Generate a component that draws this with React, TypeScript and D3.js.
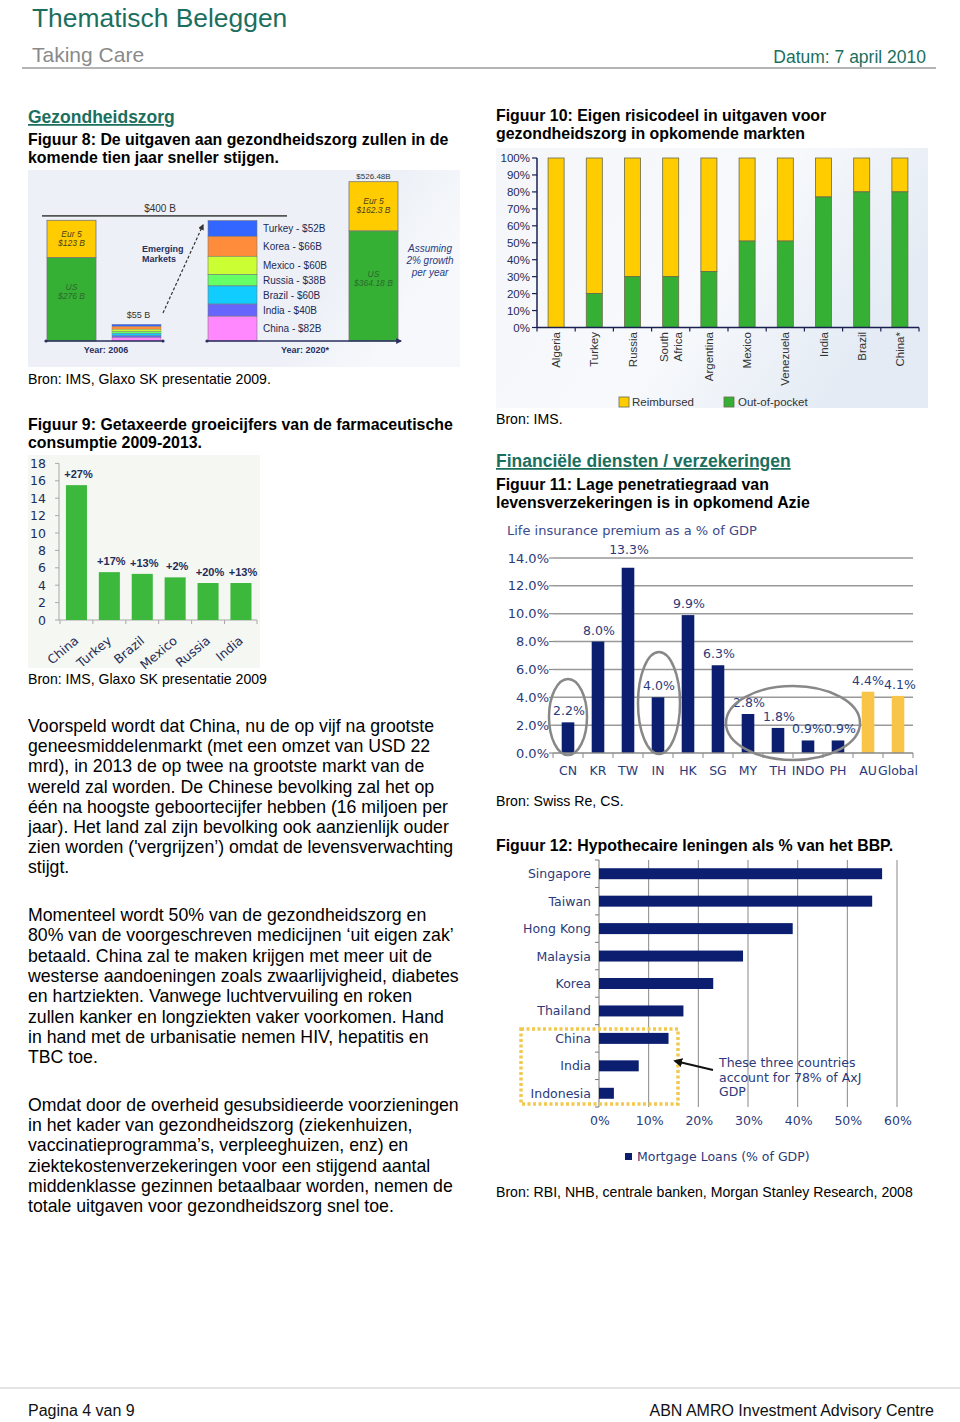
import React from 'react';
import * as d3 from 'd3';

const SANS = '"Liberation Sans", Arial, Helvetica, sans-serif';
const VERD = '"DejaVu Sans", Verdana, sans-serif';
const TEAL = '#1b6f5e';
const NAVY = '#2b3a7a';
const DARKNAVY = '#0b1e6f';

// ---------- Figure 8 data ----------
const fig8Segments = ['Turkey', 'Korea', 'Mexico', 'Russia', 'Brazil', 'India', 'China'];
const fig8Emerging2020 = [52, 66, 60, 38, 60, 40, 82];
const fig8Emerging2006 = 55;
const fig8MatureLabels = ['US', 'Eur 5'];
const fig8Mature2006 = [276, 123];
const fig8Mature2020 = [364.18, 162.3];
const fig8Mature2020Total = 526.48;
const fig8SegColors = ['#3366ff', '#ff8c3a', '#ccff33', '#66ff66', '#11ccff', '#6666ff', '#ff88ff'];

// ---------- Figure 9 data ----------
const fig9Countries = ['China', 'Turkey', 'Brazil', 'Mexico', 'Russia', 'India'];
const fig9Values = [15.5, 5.5, 5.3, 4.9, 4.25, 4.25];
const fig9Growth = ['+27%', '+17%', '+13%', '+2%', '+20%', '+13%'];
const fig9Ticks = [0, 2, 4, 6, 8, 10, 12, 14, 16, 18];

// ---------- Figure 10 data ----------
const fig10Countries = ['Algeria', 'Turkey', 'Russia', 'South Africa', 'Argentina', 'Mexico', 'Venezuela', 'India', 'Brazil', 'China*'];
const fig10OutOfPocket = [0, 20, 30, 30, 33, 51, 51, 77, 80, 80];
const fig10Ticks = [0, 10, 20, 30, 40, 50, 60, 70, 80, 90, 100];

// ---------- Figure 11 data ----------
const fig11Countries = ['CN', 'KR', 'TW', 'IN', 'HK', 'SG', 'MY', 'TH', 'INDO', 'PH', 'AU', 'Global'];
const fig11Values = [2.2, 8.0, 13.3, 4.0, 9.9, 6.3, 2.8, 1.8, 0.9, 0.9, 4.4, 4.1];
const fig11Ticks = [0, 2, 4, 6, 8, 10, 12, 14];

// ---------- Figure 12 data ----------
const fig12Countries = ['Singapore', 'Taiwan', 'Hong Kong', 'Malaysia', 'Korea', 'Thailand', 'China', 'India', 'Indonesia'];
const fig12Values = [57, 55, 39, 29, 23, 17, 14, 8, 3];
const fig12Ticks = [0, 10, 20, 30, 40, 50, 60];

// ---------- Text ----------
const para1 = [
  'Voorspeld wordt dat China, nu de op vijf na grootste',
  'geneesmiddelenmarkt (met een omzet van USD 22',
  'mrd), in 2013 de op twee na grootste markt van de',
  'wereld zal worden. De Chinese bevolking zal het op',
  'één na hoogste geboortecijfer hebben (16 miljoen per',
  'jaar). Het land zal zijn bevolking ook aanzienlijk ouder',
  "zien worden ('vergrijzen’) omdat de levensverwachting",
  'stijgt.',
];
const para2 = [
  'Momenteel wordt 50% van de gezondheidszorg en',
  '80% van de voorgeschreven medicijnen ‘uit eigen zak’',
  'betaald. China zal te maken krijgen met meer uit de',
  'westerse aandoeningen zoals zwaarlijvigheid, diabetes',
  'en hartziekten. Vanwege luchtvervuiling en roken',
  'zullen kanker en longziekten vaker voorkomen. Hand',
  'in hand met de urbanisatie nemen HIV, hepatitis en',
  'TBC toe.',
];
const para3 = [
  'Omdat door de overheid gesubsidieerde voorzieningen',
  'in het kader van gezondheidszorg (ziekenhuizen,',
  'vaccinatieprogramma’s, verpleeghuizen, enz) en',
  'ziektekostenverzekeringen voor een stijgend aantal',
  'middenklasse gezinnen betaalbaar worden, nemen de',
  'totale uitgaven voor gezondheidszorg snel toe.',
];

function Lines({ lines, x, y, step, size = 17.7, weight = 'normal', fill = '#000' }: any) {
  return (
    <g fontFamily={SANS} fontSize={size} fontWeight={weight} fill={fill}>
      {lines.map((l: string, i: number) => (
        <text key={i} x={x} y={y + i * step}>{l}</text>
      ))}
    </g>
  );
}

function Header() {
  return (
    <g fontFamily={SANS}>
      <text x={32} y={27} fontSize={26.4} fill={TEAL}>Thematisch Beleggen</text>
      <text x={32} y={62} fontSize={21} fill="#8a8a8a">Taking Care</text>
      <text x={926} y={63} fontSize={17.5} fill={TEAL} textAnchor="end">Datum: 7 april 2010</text>
      <line x1={22} x2={936} y1={68} y2={68} stroke="#b5b5b5" strokeWidth={2} />
      <line x1={0} x2={960} y1={1388} y2={1388} stroke="#dddddd" strokeWidth={1.5} />
      <text x={28} y={1416} fontSize={16} fill="#111">Pagina 4 van 9</text>
      <text x={934} y={1416} fontSize={16} fill="#111" textAnchor="end">ABN AMRO Investment Advisory Centre</text>
    </g>
  );
}

function Fig8() {
  const y = d3.scaleLinear().domain([0, fig8Mature2020Total]).range([341, 181.7]);
  const col = d3.scaleOrdinal<string, number>().domain(['m06', 'e06', 'e20', 'm20']).range([47, 112, 208, 349]);
  const bw = 49;
  const emTotal = d3.sum(fig8Emerging2020);
  const segs = fig8Emerging2020.map((v, i) => {
    const below = d3.sum(fig8Emerging2020.slice(i + 1));
    return { name: fig8Segments[i], v, lo: below, hi: below + v, color: fig8SegColors[i] };
  });
  const mature = (vals: number[]) => {
    const us = vals[0];
    return [
      { name: fig8MatureLabels[0], v: us, lo: 0, hi: us, color: '#35b035' },
      { name: fig8MatureLabels[1], v: vals[1], lo: us, hi: us + vals[1], color: '#ffcc00' },
    ];
  };
  const m06 = mature(fig8Mature2006);
  const m20 = mature(fig8Mature2020);
  const fmtB = (v: number) => '$' + v + ' B';
  const matureText = (segsM: any[], cx: number) =>
    segsM.map((s: any, i: number) => {
      const c = (y(s.lo) + y(s.hi)) / 2;
      const isUS = i === 0;
      const y1 = isUS ? c - 9 : c - 2;
      return (
        <g key={i} fontStyle="italic" fontSize={8.5} textAnchor="middle" fill={isUS ? '#2c6a2c' : '#4a4020'}>
          <text x={cx} y={y1}>{s.name}</text>
          <text x={cx} y={y1 + 9}>{fmtB(s.v)}</text>
        </g>
      );
    });
  return (
    <g fontFamily={SANS}>
      <rect x={28} y={170} width={432} height={197} fill="url(#bg8)" />
      <line x1={42} x2={287} y1={y(400) - 4} y2={y(400) - 4} stroke="#555" strokeWidth={1.8} />
      <text x={160} y={y(400) - 8} fontSize={10} fill="#333" textAnchor="middle">$400 B</text>
      {m06.map((s, i) => (
        <rect key={i} x={col('m06')} width={bw} y={y(s.hi)} height={y(s.lo) - y(s.hi)} fill={s.color} stroke="#777" strokeWidth={0.8} />
      ))}
      {matureText(m06, col('m06') + bw / 2)}
      {segs.map((s, i) => (
        <rect key={i} x={col('e06')} width={bw}
          y={y((s.hi * fig8Emerging2006) / emTotal)}
          height={y((s.lo * fig8Emerging2006) / emTotal) - y((s.hi * fig8Emerging2006) / emTotal)}
          fill={s.color} stroke="#777" strokeWidth={0.4} />
      ))}
      <text x={col('e06') + bw / 2 + 2} y={y(fig8Emerging2006) - 6} fontSize={9} fill="#333" textAnchor="middle">$55 B</text>
      <text x={142} y={252} fontSize={9} fontWeight="bold" fill="#2a2f5e">Emerging</text>
      <text x={142} y={262} fontSize={9} fontWeight="bold" fill="#2a2f5e">Markets</text>
      <line x1={163} y1={313} x2={203} y2={225} stroke="#333" strokeWidth={1.2} strokeDasharray="3,2" markerEnd="url(#arr8)" />
      <line x1={46} x2={163} y1={341} y2={341} stroke="#2a2f5e" strokeWidth={1.5} />
      <circle cx={46} cy={341} r={1.6} fill="#2a2f5e" />
      <circle cx={163} cy={341} r={1.6} fill="#2a2f5e" />
      <text x={106} y={353} fontSize={9} fontWeight="bold" fill="#2a2f5e" textAnchor="middle">Year: 2006</text>
      {segs.map((s, i) => (
        <g key={i}>
          <rect x={col('e20')} width={bw} y={y(s.hi)} height={y(s.lo) - y(s.hi)} fill={s.color} stroke="#777" strokeWidth={0.6} />
          <text x={263} y={(y(s.lo) + y(s.hi)) / 2 + 3.5} fontSize={10} fill="#222a55">{s.name} - ${s.v}B</text>
        </g>
      ))}
      {m20.map((s, i) => (
        <rect key={i} x={col('m20')} width={bw} y={y(s.hi)} height={y(s.lo) - y(s.hi)} fill={s.color} stroke="#777" strokeWidth={0.8} />
      ))}
      {matureText(m20, col('m20') + bw / 2)}
      <text x={col('m20') + bw / 2} y={y(fig8Mature2020Total) - 3} fontSize={8} fill="#333" textAnchor="middle">${fig8Mature2020Total}B</text>
      <g fontSize={10} fontStyle="italic" fill="#2a3a80" textAnchor="middle">
        <text x={430} y={252}>Assuming</text>
        <text x={430} y={264}>2% growth</text>
        <text x={430} y={276}>per year</text>
      </g>
      <line x1={207} x2={401} y1={341} y2={341} stroke="#2a2f5e" strokeWidth={1.5} markerEnd="url(#arrAxis)" />
      <circle cx={207} cy={341} r={1.6} fill="#2a2f5e" />
      <text x={305} y={353} fontSize={9} fontWeight="bold" fill="#2a2f5e" textAnchor="middle">Year: 2020*</text>
    </g>
  );
}

function Fig9() {
  const x = d3.scaleBand().domain(fig9Countries).range([60, 257.4]).paddingInner(0.36).paddingOuter(0.18);
  const y = d3.scaleLinear().domain([0, 18]).range([620, 463.4]);
  const step = x.step();
  return (
    <g>
      <rect x={28} y={455} width={232} height={213} fill="#f4f7f2" />
      <line x1={59} x2={59} y1={y(18)} y2={y(0)} stroke="#a8a8a8" strokeWidth={1} />
      <line x1={59} x2={257} y1={y(0)} y2={y(0)} stroke="#a8a8a8" strokeWidth={1} />
      {fig9Ticks.map((t) => (
        <g key={t}>
          <line x1={55} x2={59} y1={y(t)} y2={y(t)} stroke="#a8a8a8" />
          <text x={46} y={y(t) + 4.5} fontFamily={VERD} fontSize={12.5} fill="#1f2d5a" textAnchor="end">{t}</text>
        </g>
      ))}
      {fig9Countries.map((c, i) => (
        <line key={'t' + i} x1={60 + i * step} x2={60 + i * step} y1={y(0)} y2={y(0) + 4} stroke="#a8a8a8" />
      ))}
      <line x1={257} x2={257} y1={y(0)} y2={y(0) + 4} stroke="#a8a8a8" />
      {fig9Countries.map((c, i) => {
        const cx = (x(c) as number) + x.bandwidth() / 2;
        return (
          <g key={c}>
            <rect x={x(c)} width={x.bandwidth()} y={y(fig9Values[i])} height={y(0) - y(fig9Values[i])} fill="#3cb83c" />
            <text x={cx + 2} y={y(fig9Values[i]) - 7} fontFamily={SANS} fontSize={11} fontWeight="bold" fill="#1f2d5a" textAnchor="middle">{fig9Growth[i]}</text>
            <text transform={`translate(${cx + 3},642) rotate(-40)`} fontFamily={VERD} fontSize={12.5} fill="#1f2d5a" textAnchor="end">{c}</text>
          </g>
        );
      })}
    </g>
  );
}

function Fig10() {
  const x = d3.scaleBand().domain(fig10Countries).range([537, 919]).paddingInner(0.58).paddingOuter(0.29);
  const y = d3.scaleLinear().domain([0, 100]).range([327.5, 158]);
  const step = x.step();
  const axisC = '#1a2050';
  return (
    <g fontFamily={SANS}>
      <rect x={496} y={148} width={432} height={260} fill="url(#bg10)" />
      {fig10Countries.map((c, i) => {
        const oop = fig10OutOfPocket[i];
        const bx = x(c) as number;
        return (
          <g key={c}>
            <rect x={bx} width={x.bandwidth()} y={y(100)} height={y(oop) - y(100)} fill="#ffcc00" stroke="#6b6b4b" strokeWidth={0.8} />
            {oop > 0 && <rect x={bx} width={x.bandwidth()} y={y(oop)} height={y(0) - y(oop)} fill="#35b035" stroke="#6b6b4b" strokeWidth={0.8} />}
          </g>
        );
      })}
      <line x1={537} x2={537} y1={y(100)} y2={y(0)} stroke={axisC} strokeWidth={1.5} />
      <line x1={537} x2={919} y1={y(0)} y2={y(0)} stroke={axisC} strokeWidth={1.5} />
      {fig10Ticks.map((t) => (
        <g key={t}>
          <line x1={532} x2={537} y1={y(t)} y2={y(t)} stroke={axisC} strokeWidth={1.2} />
          <text x={530} y={y(t) + 4} fontSize={11.5} fill="#1f2a5a" textAnchor="end">{t}%</text>
        </g>
      ))}
      {d3.range(fig10Countries.length + 1).map((i) => (
        <line key={i} x1={537 + i * step} x2={537 + i * step} y1={y(0)} y2={y(0) + 4} stroke={axisC} strokeWidth={1.2} />
      ))}
      {fig10Countries.map((c) => {
        const cx = (x(c) as number) + x.bandwidth() / 2;
        const parts = c.split(' ');
        return parts.map((p, j) => {
          const off = parts.length === 1 ? 0 : (j - (parts.length - 1) / 2) * 14;
          return (
            <text key={c + j} transform={`translate(${cx + off + 4},332) rotate(-90)`} fontSize={11.5} fill="#333" textAnchor="end">{p}</text>
          );
        });
      })}
      <rect x={619} y={397} width={10} height={10} fill="#ffcc00" stroke="#6b6b4b" strokeWidth={0.8} />
      <text x={632} y={406} fontSize={11.5} fill="#333">Reimbursed</text>
      <rect x={724} y={397} width={10} height={10} fill="#35b035" stroke="#6b6b4b" strokeWidth={0.8} />
      <text x={738} y={406} fontSize={11.5} fill="#333">Out-of-pocket</text>
    </g>
  );
}

function Fig11() {
  const x = d3.scaleBand().domain(fig11Countries).range([553, 913]).paddingInner(0.58).paddingOuter(0.29);
  const y = d3.scaleLinear().domain([0, 14]).range([753, 558]);
  const step = x.step();
  const yellow = new Set(['AU', 'Global']);
  const fs = 12.5;
  const cxOf = (c: string) => (x(c) as number) + x.bandwidth() / 2;
  const labelY = (v: number) => {
    const ly = y(v) - 7;
    return ly < y(14) + 12 ? y(14) - 4 : ly;
  };
  // value labels with a simple left-to-right dodge for neighbours at the same height
  const labels = fig11Countries.map((c, i) => {
    const t = fig11Values[i].toFixed(1) + '%';
    return { t, x: cxOf(c) + 1, y: labelY(fig11Values[i]), w: t.length * 0.62 * fs };
  });
  for (let i = 1; i < labels.length; i++) {
    const a = labels[i - 1];
    const b = labels[i];
    const need = (a.w + b.w) / 2 + 1;
    if (Math.abs(a.y - b.y) < 11 && b.x - a.x < need) {
      const d = (need - (b.x - a.x)) / 2;
      a.x -= d;
      b.x += d;
    }
  }
  return (
    <g fontFamily={VERD}>
      <text x={507} y={535} fontSize={13} fill="#3b4a8c">Life insurance premium as a % of GDP</text>
      {fig11Ticks.map((t) => (
        <g key={t}>
          {t > 0 && <line x1={553} x2={913} y1={y(t)} y2={y(t)} stroke="#999" strokeWidth={1.5} />}
          <line x1={549} x2={553} y1={y(t)} y2={y(t)} stroke="#777" strokeWidth={1} />
          <text x={549} y={y(t) + 4.5} fontSize={13} fill={NAVY} textAnchor="end">{t.toFixed(1)}%</text>
        </g>
      ))}
      {fig11Countries.map((c, i) => (
        <rect key={c} x={x(c)} width={x.bandwidth()} y={y(fig11Values[i])} height={y(0) - y(fig11Values[i])} fill={yellow.has(c) ? '#f9c548' : DARKNAVY} />
      ))}
      <line x1={553} x2={913} y1={y(0)} y2={y(0)} stroke="#888" strokeWidth={1.5} />
      {d3.range(fig11Countries.length + 1).map((i) => (
        <line key={i} x1={553 + i * step} x2={553 + i * step} y1={y(0)} y2={y(0) + 5} stroke="#888" strokeWidth={1} />
      ))}
      {fig11Countries.map((c, i) => (
        <g key={c}>
          <text x={labels[i].x} y={labels[i].y} fontSize={fs} fill={NAVY} textAnchor="middle">{labels[i].t}</text>
          <text x={cxOf(c)} y={775} fontSize={12.5} fill={NAVY} textAnchor="middle">{c}</text>
        </g>
      ))}
      <g fill="none" stroke="#888" strokeWidth={2.5}>
        <ellipse cx={cxOf('CN')} cy={717} rx={19} ry={38} />
        <ellipse cx={cxOf('IN') + 1} cy={703} rx={21} ry={51} />
        <ellipse cx={(cxOf('MY') + cxOf('PH')) / 2} cy={723} rx={67} ry={37} />
      </g>
    </g>
  );
}

function Fig12() {
  const y = d3.scaleBand().domain(fig12Countries).range([860, 1107]).paddingInner(0.6).paddingOuter(0.3);
  const x = d3.scaleLinear().domain([0, 60]).range([599, 897]);
  const step = y.step();
  return (
    <g fontFamily={VERD}>
      {fig12Ticks.map((t) => (
        <g key={t}>
          <line x1={x(t)} x2={x(t)} y1={860} y2={1107} stroke={t === 0 ? '#777' : '#888'} strokeWidth={1} />
          <text x={x(t) + 1} y={1125} fontSize={12.5} fill={NAVY} textAnchor="middle">{t}%</text>
        </g>
      ))}
      {d3.range(fig12Countries.length + 1).map((i) => (
        <line key={i} x1={595} x2={599} y1={860 + i * step} y2={860 + i * step} stroke="#777" />
      ))}
      {fig12Countries.map((c, i) => (
        <g key={c}>
          <rect x={x(0)} y={y(c)} height={y.bandwidth()} width={x(fig12Values[i]) - x(0)} fill={DARKNAVY} />
          <text x={591} y={(y(c) as number) + y.bandwidth() / 2 + 4.5} fontSize={12.5} fill={NAVY} textAnchor="end">{c}</text>
        </g>
      ))}
      <rect x={521} y={1029} width={157} height={75} fill="none" stroke="#f2c94c" strokeWidth={3.5} strokeDasharray="3,2.5" />
      <line x1={713} y1={1070} x2={675} y2={1061} stroke="#111" strokeWidth={1.8} markerEnd="url(#arrBlack)" />
      <g fontSize={12.5} fill={NAVY}>
        <text x={719} y={1067}>These three countries</text>
        <text x={719} y={1082}>account for 78% of AxJ</text>
        <text x={719} y={1096}>GDP</text>
      </g>
      <rect x={625} y={1153} width={7} height={7} fill={DARKNAVY} />
      <text x={637} y={1161} fontSize={12.5} fill={NAVY}>Mortgage Loans (% of GDP)</text>
    </g>
  );
}

export default function App() {
  return (
    <svg width={960} height={1422} style={{ position: 'absolute', left: 0, top: 0, background: '#fff' }}>
      <defs>
        <linearGradient id="bg8" x1="0" y1="0" x2="1" y2="0.3">
          <stop offset="0" stopColor="#edf1f7" />
          <stop offset="0.8" stopColor="#edf1f7" />
          <stop offset="1" stopColor="#f6f8fb" />
        </linearGradient>
        <linearGradient id="bg10" x1="0" y1="0" x2="1" y2="0.4">
          <stop offset="0" stopColor="#f4f6fa" />
          <stop offset="0.6" stopColor="#f7f9fc" />
          <stop offset="1" stopColor="#e4ebf4" />
        </linearGradient>
        <marker id="arr8" viewBox="0 0 10 10" refX="8" refY="5" markerWidth="5" markerHeight="5" orient="auto">
          <path d="M0,0 L10,5 L0,10 z" fill="#333" />
        </marker>
        <marker id="arrAxis" viewBox="0 0 10 10" refX="8" refY="5" markerWidth="4" markerHeight="4" orient="auto">
          <path d="M0,0 L10,5 L0,10 z" fill="#2a2f5e" />
        </marker>
        <marker id="arrBlack" viewBox="0 0 10 10" refX="8" refY="5" markerWidth="5" markerHeight="5" orient="auto">
          <path d="M0,0 L10,5 L0,10 z" fill="#111" />
        </marker>
      </defs>
      <Header />
      <g fontFamily={SANS}>
        <text x={28} y={123} fontSize={17.5} fontWeight="bold" fill={TEAL} style={{ textDecoration: 'underline' }}>Gezondheidszorg</text>
        <Lines lines={['Figuur 8: De uitgaven aan gezondheidszorg zullen in de', 'komende tien jaar sneller stijgen.']} x={28} y={145} step={18} size={15.9} weight="bold" />
        <text x={28} y={384} fontSize={14.1}>Bron: IMS, Glaxo SK presentatie 2009.</text>
        <Lines lines={['Figuur 9: Getaxeerde groeicijfers van de farmaceutische', 'consumptie 2009-2013.']} x={28} y={430} step={18} size={15.9} weight="bold" />
        <text x={28} y={684} fontSize={14.1}>Bron: IMS, Glaxo SK presentatie 2009</text>
      </g>
      <Lines lines={para1} x={28} y={732} step={20.2} />
      <Lines lines={para2} x={28} y={921} step={20.3} />
      <Lines lines={para3} x={28} y={1111} step={20.2} />
      <Fig8 />
      <Fig9 />
      <g fontFamily={SANS}>
        <Lines lines={['Figuur 10: Eigen risicodeel in uitgaven voor', 'gezondheidszorg in opkomende markten']} x={496} y={121} step={18} size={15.9} weight="bold" />
        <text x={496} y={424} fontSize={14.1}>Bron: IMS.</text>
        <text x={496} y={467} fontSize={17.5} fontWeight="bold" fill={TEAL} style={{ textDecoration: 'underline' }}>Financiële diensten / verzekeringen</text>
        <Lines lines={['Figuur 11: Lage penetratiegraad van', 'levensverzekeringen is in opkomend Azie']} x={496} y={490} step={18} size={15.9} weight="bold" />
        <text x={496} y={806} fontSize={14.1}>Bron: Swiss Re, CS.</text>
        <text x={496} y={851} fontSize={15.9} fontWeight="bold">Figuur 12: Hypothecaire leningen als % van het BBP.</text>
        <text x={496} y={1197} fontSize={14.1}>Bron: RBI, NHB, centrale banken, Morgan Stanley Research, 2008</text>
      </g>
      <Fig10 />
      <Fig11 />
      <Fig12 />
    </svg>
  );
}
